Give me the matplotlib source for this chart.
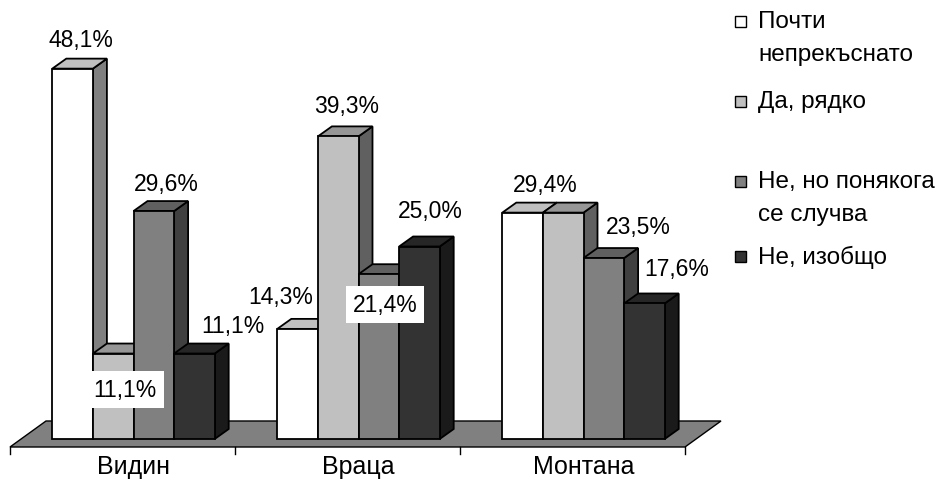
import numpy as np
import matplotlib.pyplot as plt
from matplotlib.patches import Rectangle, Polygon

plt.rcParams['font.family'] = ['Liberation Sans', 'DejaVu Sans']

categories = ['Видин', 'Враца', 'Монтана']
series = ['Почти\nнепрекъснато', 'Да, рядко', 'Не, но понякога\nсе случва', 'Не, изобщо']
values = [
    [48.1, 11.1, 29.6, 11.1],   # Видин
    [14.3, 39.3, 21.4, 25.0],   # Враца
    [29.4, 29.4, 23.5, 17.6],   # Монтана
]
labels = [
    ['48,1%', '11,1%', '29,6%', '11,1%'],
    ['14,3%', '39,3%', '21,4%', '25,0%'],
    ['29,4%', None, '23,5%', '17,6%'],
]

# face colours per series: front, top, side
faces = [
    ('#FFFFFF', '#C0C0C0', '#808080'),
    ('#C0C0C0', '#969696', '#606060'),
    ('#808080', '#606060', '#404040'),
    ('#333333', '#262626', '#1A1A1A'),
]

# label offsets in pixels from (front centre, top of bar); boxed = drawn over the bar
lab_off = [
    [(8, 29, False), (12, -36, True), (13, 28, False), (38, 28, False)],
    [(-17, 32, False), (8, 31, False), (6, -30, True), (11, 36, False)],
    [(23, 28, False), None, (35, 32, False), (32, 35, False)],
]

SX = 225.0   # pixels per category
SY = 7.7     # pixels per percent
W, H = 950, 489

fig = plt.figure(figsize=(9.5, 4.89), dpi=100)
ax = fig.add_axes([0, 0, 1, 1])
ax.set_xlim(-133.5 / SX, (W - 133.5) / SX)
ax.set_ylim(-(H - 440) / SY, 440 / SY)
ax.axis('off')

w = 40.6 / SX
dx, dy = 14 / SX, 10 / SY
fs = 16.5

# floor
x_left = -123.5 / SX
x_right = x_left + len(categories)
fy = -8 / SY
fdx, fdy = 36 / SX, 26 / SY
ax.add_patch(Polygon([(x_left, fy), (x_right, fy), (x_right + fdx, fy + fdy), (x_left + fdx, fy + fdy)],
                     closed=True, facecolor='#808080', edgecolor='black', lw=1.0))
for k in range(len(categories) + 1):
    ax.plot([x_left + k, x_left + k], [fy, fy - 7 / SY], color='black', lw=1.0)

for i, cat in enumerate(categories):
    ax.text(i, -27 / SY, cat, ha='center', va='center', fontsize=18)
    for j, v in enumerate(values[i]):
        xl = i - 2 * w + j * w
        fc, tc, sc = faces[j]
        ax.add_patch(Polygon([(xl + w, 0), (xl + w + dx, dy), (xl + w + dx, v + dy), (xl + w, v)],
                             closed=True, facecolor=sc, edgecolor='black', lw=1.3))
        ax.add_patch(Polygon([(xl, v), (xl + w, v), (xl + w + dx, v + dy), (xl + dx, v + dy)],
                             closed=True, facecolor=tc, edgecolor='black', lw=1.3))
        ax.add_patch(Rectangle((xl, 0), w, v, facecolor=fc, edgecolor='black', lw=1.3))

for i in range(len(categories)):
    for j, v in enumerate(values[i]):
        if labels[i][j] is None:
            continue
        ox, oy, boxed = lab_off[i][j]
        xl = i - 2 * w + j * w
        kw = {}
        if boxed:
            kw['bbox'] = dict(boxstyle='square,pad=0.3', facecolor='white', edgecolor='none')
        ax.annotate(labels[i][j], (xl + w / 2, v), xytext=(ox, oy), textcoords='offset pixels',
                    ha='center', va='center', fontsize=fs, zorder=5, **kw)

# legend
rows = [22, 102, 182, 257]
for j, name in enumerate(series):
    py = rows[j]
    fig.patches.append(Rectangle((735 / W, 1 - (py + 5.5) / H), 11 / W, 11 / H, transform=fig.transFigure,
                                 facecolor=faces[j][0], edgecolor='black', lw=1.0))
    for k, line in enumerate(name.split('\n')):
        fig.text(758 / W, 1 - (py + 33 * k) / H, line, ha='left', va='center', fontsize=17.5)

fig.savefig('out.png', dpi=100)
